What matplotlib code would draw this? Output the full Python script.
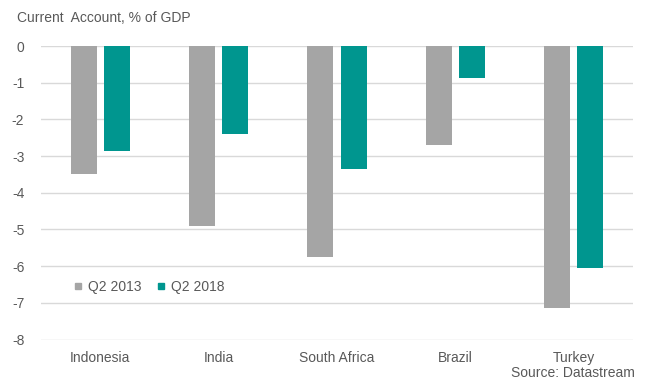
import matplotlib
matplotlib.use("Agg")
import matplotlib.pyplot as plt
from matplotlib.lines import Line2D
import numpy as np

plt.rcParams["font.family"] = ["Liberation Sans", "DejaVu Sans"]
plt.rcParams["axes.unicode_minus"] = False

countries = ["Indonesia", "India", "South Africa", "Brazil", "Turkey"]
q2_2013 = [-3.5, -4.9, -5.75, -2.7, -7.15]
q2_2018 = [-2.85, -2.4, -3.35, -0.87, -6.05]
series_names = ["Q2 2013", "Q2 2018"]
yticks = [0, -1, -2, -3, -4, -5, -6, -7, -8]

gray = "#A5A5A5"
teal = "#00968F"
text_col = "#595959"
grid_col = "#D9D9D9"

fig = plt.figure(figsize=(6.51, 3.81), dpi=100)
W, H = 651, 381
left, right, top, bottom = 41, 633, 46, 339.5
ax = fig.add_axes([left / W, 1 - bottom / H, (right - left) / W, (bottom - top) / H])

x = np.arange(len(countries))
bw = 0.22
off = 0.14
ax.bar(x - off, q2_2013, width=bw, color=gray, zorder=3)
ax.bar(x + off, q2_2018, width=bw, color=teal, zorder=3)

ax.set_xlim(-0.5, len(countries) - 0.5)
ax.set_ylim(-8, 0)
ax.set_yticks(yticks)
ax.set_yticklabels([str(v) for v in yticks])
ax.yaxis.grid(True, color=grid_col, linewidth=1.0, zorder=0)
ax.set_xticks(x)
ax.set_xticklabels(countries)
ax.tick_params(axis="both", length=0, labelsize=10, labelcolor=text_col)
ax.tick_params(axis="y", pad=12)
ax.tick_params(axis="x", pad=8)
for s in ax.spines.values():
    s.set_visible(False)

fig.text(17 / W, 1 - 18 / H, "Current  Account, % of GDP", fontsize=10,
         color=text_col, ha="left", va="center")
fig.text(635 / W, 1 - 373 / H, "Source: Datastream", fontsize=10,
         color=text_col, ha="right", va="center")

handles = [Line2D([], [], linestyle="none", marker="s", markersize=5,
                  markerfacecolor=c, markeredgecolor=c) for c in (gray, teal)]
leg = ax.legend(handles, series_names, loc="center left",
                bbox_to_anchor=((74 - left) / (right - left), (bottom - 287) / (bottom - top)),
                ncol=2, frameon=False, fontsize=10, handlelength=0.6,
                handletextpad=0.4, columnspacing=1.1, borderaxespad=0, borderpad=0)
for t in leg.get_texts():
    t.set_color(text_col)

fig.savefig("out.png", dpi=100, facecolor="white")
